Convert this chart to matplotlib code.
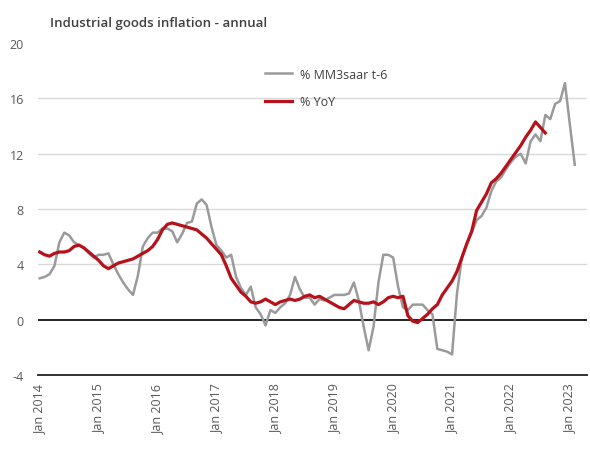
import matplotlib
matplotlib.use("Agg")
import matplotlib.pyplot as plt
import numpy as np

plt.rcParams['font.family'] = ['Open Sans', 'DejaVu Sans']

# Monthly series, starting Jan 2014
mm3saar = [3.0, 3.1, 3.3, 3.9, 5.6, 6.3, 6.1, 5.6, 5.4, 5.2, 4.8, 4.5,
           4.7, 4.7, 4.8, 4.0, 3.3, 2.7, 2.2, 1.8, 3.2, 5.3, 5.9, 6.3,
           6.3, 6.6, 6.6, 6.4, 5.6, 6.2, 7.0, 7.1, 8.4, 8.7, 8.3, 6.7,
           5.4, 5.0, 4.5, 4.7, 3.1, 2.3, 1.8, 2.4, 0.9, 0.4, -0.4, 0.7,
           0.5, 0.9, 1.2, 1.8, 3.1, 2.2, 1.6, 1.6, 1.1, 1.5, 1.4, 1.6,
           1.8, 1.8, 1.8, 1.9, 2.7, 1.4, -0.5, -2.2, -0.5, 2.7, 4.7, 4.7,
           4.5, 2.4, 0.9, 0.7, 1.1, 1.1, 1.1, 0.7, 0.4, -2.1, -2.2, -2.3,
           -2.5, 1.9, 4.5, 5.5, 6.3, 7.2, 7.5, 8.1, 9.3, 10.0, 10.3, 10.9,
           11.4, 11.8, 12.0, 11.3, 12.9, 13.4, 12.9, 14.8, 14.5, 15.6, 15.8, 17.1,
           14.1, 11.2]

yoy = [4.9, 4.7, 4.6, 4.8, 4.9, 4.9, 5.0, 5.3, 5.4, 5.2, 4.9, 4.6,
       4.3, 3.9, 3.7, 3.9, 4.1, 4.2, 4.3, 4.4, 4.6, 4.8, 5.0, 5.3,
       5.8, 6.5, 6.9, 7.0, 6.9, 6.8, 6.7, 6.6, 6.5, 6.2, 5.9, 5.5,
       5.1, 4.7, 3.9, 3.0, 2.5, 2.0, 1.7, 1.3, 1.2, 1.3, 1.5, 1.3,
       1.1, 1.3, 1.4, 1.5, 1.4, 1.5, 1.7, 1.8, 1.6, 1.7, 1.5, 1.3,
       1.1, 0.9, 0.8, 1.1, 1.4, 1.3, 1.2, 1.2, 1.3, 1.1, 1.3, 1.6,
       1.7, 1.6, 1.7, 0.3, -0.1, -0.2, 0.1, 0.4, 0.8, 1.1, 1.8, 2.3,
       2.8, 3.5, 4.5, 5.5, 6.4, 7.9, 8.5, 9.1, 9.9, 10.2, 10.6, 11.1,
       11.6, 12.1, 12.6, 13.2, 13.7, 14.3, 13.9, 13.5]

tick_labels = ["Jan 2014", "Jan 2015", "Jan 2016", "Jan 2017", "Jan 2018",
               "Jan 2019", "Jan 2020", "Jan 2021", "Jan 2022", "Jan 2023"]
y_ticks = [-4, 0, 4, 8, 12, 16, 20]

fig = plt.figure(figsize=(5.9, 4.56), dpi=100)
ax = fig.add_axes([0.064, 0.175, 0.931, 0.7285])

x_grey = np.arange(len(mm3saar))
x_red = np.arange(len(yoy))

for y in [4, 8, 12, 16]:
    ax.axhline(y, color='#d9d9d9', lw=1.0, zorder=0)
ax.axhline(0, color='#222222', lw=1.4, zorder=1)

ax.plot(x_grey, mm3saar, color='#9a9a9a', lw=1.8, label='% MM3saar t-6', zorder=2)
ax.plot(x_red, yoy, color='#b5121b', lw=2.3, label='% YoY', zorder=3)

ax.set_ylim(-4, 20)
ax.set_xlim(-0.4, 111.5)
ax.set_yticks(y_ticks)
ax.set_yticklabels([str(v) for v in y_ticks], fontsize=9, color='#595959')
ax.set_xticks(np.arange(0, 12 * len(tick_labels), 12))
ax.set_xticklabels(tick_labels, rotation=90, fontsize=9, color='#595959')
ax.tick_params(axis='both', length=0, pad=6)
ax.tick_params(axis='y', pad=10)

for s in ['top', 'right', 'left']:
    ax.spines[s].set_visible(False)
ax.spines['bottom'].set_color('#333333')
ax.spines['bottom'].set_linewidth(1.4)

fig.text(0.085, 0.948, 'Industrial goods inflation - annual', fontsize=9.5,
         fontweight='semibold', color='#404040', va='center', ha='left')

leg = ax.legend(loc='upper left', bbox_to_anchor=(0.393, 0.96), frameon=False,
                fontsize=9, labelspacing=1.15, handlelength=2.2,
                handletextpad=0.6, labelcolor='#404040')

fig.savefig('out.png', dpi=100)
